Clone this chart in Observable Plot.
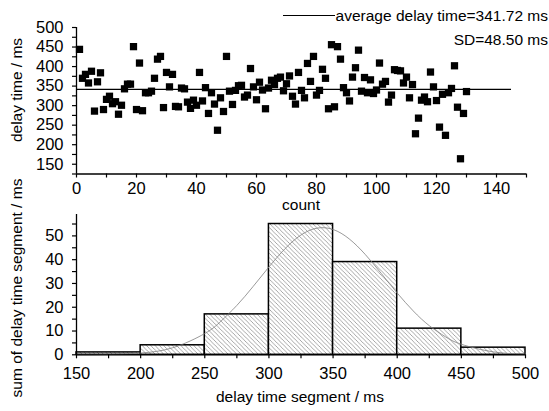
<!DOCTYPE html>
<html>
<head>
<meta charset="utf-8">
<script src="https://cdn.jsdelivr.net/npm/d3@7"></script>
<script src="https://cdn.jsdelivr.net/npm/@observablehq/plot@0.6"></script>
<style>
  html, body { margin: 0; padding: 0; background: #fff; }
  #wrap { position: relative; width: 549px; height: 411px; overflow: hidden; background: #fff; }
  #wrap svg { position: absolute; left: 0; overflow: visible; }
</style>
</head>
<body>
<div id="wrap"></div>
<script>
// ---------- data ----------
const sampleNo = d3.range(1, 131);
const delays = [
  444, 370, 380, 358, 388, 286, 361, 384, 290, 316,
  324, 305, 310, 278, 301, 343, 355, 355, 451, 290,
  409, 287, 333, 333, 337, 370, 419, 426, 295, 385,
  348, 380, 298, 297, 345, 343, 309, 293, 314, 301,
  385, 312, 346, 280, 333, 304, 237, 320, 285, 426,
  337, 303, 339, 351, 352, 322, 327, 395, 348, 315,
  360, 340, 292, 345, 365, 354, 370, 373, 338, 356,
  376, 324, 304, 385, 339, 320, 408, 362, 426, 327,
  339, 393, 370, 292, 456, 297, 451, 419, 346, 333,
  312, 373, 397, 442, 337, 372, 333, 366, 331, 340,
  409, 355, 362, 309, 327, 392, 390, 389, 358, 373,
  320, 354, 228, 268, 314, 322, 310, 386, 348, 313,
  245, 329, 224, 333, 344, 402, 296, 164, 280, 336
];
const meanDelay = 341.72;
const sdDelay = 48.50;
const meanLineEnd = 145;

const binStart = [150, 200, 250, 300, 350, 400, 450];
const binEnd   = [200, 250, 300, 350, 400, 450, 500];
const binCount = [1, 4, 17, 55, 39, 11, 3];

// fitted normal curve
const curveX = [150, 175, 200, 225, 250, 262.5, 275, 287.5, 300, 312.5, 325, 337.5, 350, 362.5, 375, 387.5, 400, 412.5, 425, 437.5, 450, 475, 500];
const curveY = [0.02, 0.15, 0.75, 2.96, 8.95, 14.08, 20.76, 28.62, 36.93, 44.59, 50.39, 53.27, 52.70, 48.78, 42.25, 34.25, 25.98, 18.44, 12.24, 7.61, 4.42, 1.23, 0.26];

// ticks
const topXTicks = d3.range(0, 151, 10);
const topYTicks = d3.range(125, 501, 25);
const botXTicks = d3.range(150, 501, 25);
const botYTicks = d3.range(0, 56, 5);

const labels = {
  topX: "count",
  topY: "delay time / ms",
  botX: "delay time segment / ms",
  botY: "sum of delay time segment / ms",
  legend1: "average delay time=341.72 ms",
  legend2: "SD=48.50 ms"
};

const FONT = "'Liberation Sans', Arial, sans-serif";
const TICK_FS = 16.5;
const LABEL_FS = 15.5;

// ---------- top chart ----------
const points = sampleNo.map((n, i) => ({n, delay: delays[i]}));
const topPlot = Plot.plot({
  width: 549, height: 212,
  marginLeft: 76, marginRight: 23, marginTop: 27, marginBottom: 38.5,
  style: {fontFamily: FONT, fontSize: TICK_FS + "px", color: "#000", background: "transparent"},
  x: {domain: [0, 150]},
  y: {domain: [125, 500]},
  marks: [
    Plot.axisX({ticks: topXTicks, tickSize: 4, tickPadding: 4, fontSize: TICK_FS, stroke: "#000", strokeWidth: 1.2,
                tickFormat: d => d % 20 === 0 ? String(d) : "", label: null}),
    Plot.axisY({ticks: topYTicks, tickSize: 4, tickPadding: 9, fontSize: TICK_FS, stroke: "#000", strokeWidth: 1.2,
                tickFormat: d => d % 50 === 0 ? String(d) : "", label: null}),
    Plot.ruleX([0], {stroke: "#000", strokeWidth: 1.3}),
    Plot.ruleY([125], {stroke: "#000", strokeWidth: 1.3}),
    Plot.ruleY([{y: meanDelay, x1: 0, x2: meanLineEnd}], {y: "y", x1: "x1", x2: "x2", stroke: "#000", strokeWidth: 1.1}),
    Plot.dot(points, {x: "n", y: "delay", symbol: "square", r: 4.1, fill: "#000", stroke: "none"})
  ]
});
topPlot.style.top = "0px";

// ---------- bottom chart ----------
const bins = binStart.map((s, i) => ({x1: s, x2: binEnd[i], count: binCount[i]}));
const curve = curveX.map((x, i) => ({x, y: curveY[i]}));
const botPlot = Plot.plot({
  width: 549, height: 199,
  marginLeft: 76, marginRight: 24, marginTop: 2, marginBottom: 56.7,
  style: {fontFamily: FONT, fontSize: TICK_FS + "px", color: "#000", background: "transparent"},
  x: {domain: [150, 500]},
  y: {domain: [0, 59]},
  marks: [
    Plot.rectY(bins, {x1: "x1", x2: "x2", y: "count", fill: "url(#hatch)", stroke: "#000", strokeWidth: 1.5}),
    Plot.line(curve, {x: "x", y: "y", curve: "natural", stroke: "#808080", strokeWidth: 0.8}),
    Plot.axisX({ticks: botXTicks, tickSize: 4, tickPadding: 8, fontSize: TICK_FS, stroke: "#000", strokeWidth: 1.2,
                tickFormat: d => d % 50 === 0 ? String(d) : "", label: null}),
    Plot.axisY({ticks: botYTicks, tickSize: 4, tickPadding: 9, fontSize: TICK_FS, stroke: "#000", strokeWidth: 1.2,
                tickFormat: d => d % 10 === 0 ? String(d) : "", label: null}),
    Plot.ruleX([150], {stroke: "#000", strokeWidth: 1.3}),
    Plot.ruleY([0], {stroke: "#000", strokeWidth: 1.3})
  ]
});
botPlot.style.top = "212px";
const defs = d3.select(botPlot).insert("defs", ":first-child");
const pat = defs.append("pattern").attr("id", "hatch").attr("patternUnits", "userSpaceOnUse")
  .attr("width", 4.3).attr("height", 4.3);
pat.append("rect").attr("width", 4.3).attr("height", 4.3).attr("fill", "#fff");
pat.append("path").attr("d", "M-1,-1L5.3,5.3M-1,3.3L1,5.3M3.3,-1L5.3,1")
  .attr("stroke", "#6a6a6a").attr("stroke-width", 0.6).attr("fill", "none");

const wrap = document.getElementById("wrap");
wrap.appendChild(topPlot);
wrap.appendChild(botPlot);

// ---------- overlay: titles and legend ----------
const ov = d3.select(wrap).append("svg").attr("width", 549).attr("height", 411)
  .style("top", "0px").style("pointer-events", "none")
  .attr("font-family", FONT).attr("fill", "#000");
ov.append("text").attr("x", 301).attr("y", 205).attr("dy", "0.35em").attr("text-anchor", "middle")
  .attr("font-size", LABEL_FS).text(labels.topX);
ov.append("text").attr("x", 300).attr("y", 397).attr("dy", "0.35em").attr("text-anchor", "middle")
  .attr("font-size", LABEL_FS).text(labels.botX);
ov.append("text").attr("transform", "translate(17,90) rotate(-90)").attr("dy", "0.35em").attr("text-anchor", "middle")
  .attr("font-size", LABEL_FS).text(labels.topY);
ov.append("text").attr("transform", "translate(17,288) rotate(-90)").attr("dy", "0.35em").attr("text-anchor", "middle")
  .attr("font-size", LABEL_FS).text(labels.botY);
ov.append("line").attr("x1", 283).attr("x2", 335).attr("y1", 15.5).attr("y2", 15.5).attr("stroke", "#000").attr("stroke-width", 1.1);
ov.append("text").attr("x", 548).attr("y", 16).attr("dy", "0.35em").attr("text-anchor", "end")
  .attr("font-size", LABEL_FS).text(labels.legend1);
ov.append("text").attr("x", 548).attr("y", 40).attr("dy", "0.35em").attr("text-anchor", "end")
  .attr("font-size", LABEL_FS).text(labels.legend2);
</script>
</body>
</html>
